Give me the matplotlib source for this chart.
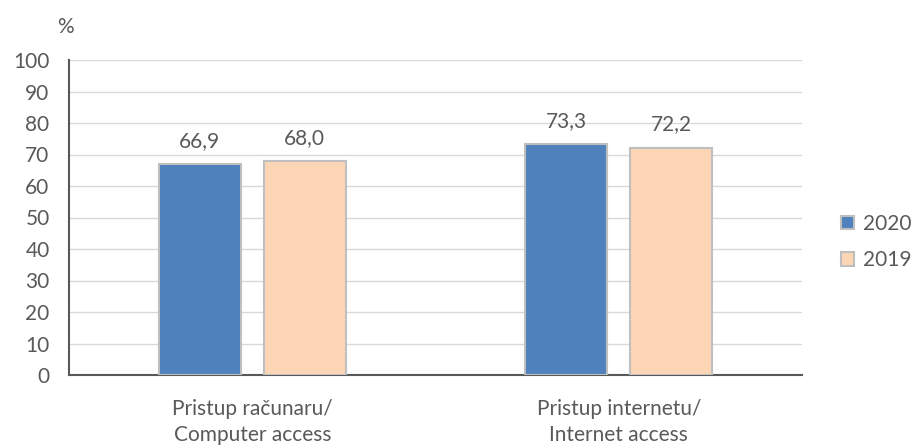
import matplotlib
matplotlib.use("Agg")
import matplotlib.pyplot as plt
import numpy as np
from matplotlib.patches import Patch

categories = ["Pristup računaru/\nComputer access", "Pristup internetu/\nInternet access"]
series_names = ["2020", "2019"]
values_2020 = [66.9, 73.3]
values_2019 = [68.0, 72.2]
yticks = [0, 10, 20, 30, 40, 50, 60, 70, 80, 90, 100]

plt.rcParams['font.family'] = ['Lato', 'DejaVu Sans']
txt = '#595959'

fig = plt.figure(figsize=(9.13, 4.45), dpi=100)
ax = fig.add_axes([69/913, 1-375/445, (802-69)/913, (375-60)/445])

x = np.arange(len(categories))
w = 0.224
off = 0.143
colors = ['#4F81BD', '#FCD5B5']
b1 = ax.bar(x - off, values_2020, w, color=colors[0], edgecolor='#BFBFBF', linewidth=1.5, zorder=3)
b2 = ax.bar(x + off, values_2019, w, color=colors[1], edgecolor='#BFBFBF', linewidth=1.5, zorder=3)
for bars in (b1, b2):
    for r in bars:
        ax.text(r.get_x() + r.get_width()/2, r.get_height() + 7.3,
                f"{r.get_height():.1f}".replace('.', ','),
                ha='center', va='center', fontsize=15, color=txt)

ax.set_xlim(-0.5, 1.5)
ax.set_ylim(0, 100)
ax.set_yticks(yticks)
ax.set_xticks(x)
ax.set_xticklabels(categories, fontsize=15, color=txt, linespacing=1.4)
ax.tick_params(axis='y', labelsize=15, labelcolor=txt, length=0, pad=14)
ax.tick_params(axis='x', length=0, pad=17)
ax.grid(axis='y', color='#D9D9D9', linewidth=1, zorder=0)
for s in ['top', 'right']:
    ax.spines[s].set_visible(False)
for s in ['left', 'bottom']:
    ax.spines[s].set_color('#595959')
    ax.spines[s].set_linewidth(1.5)

fig.text(57/913, 1-27/445, '%', fontsize=15, color=txt, va='center', ha='left')

handles = [Patch(facecolor=colors[0], edgecolor='#BFBFBF', linewidth=1.5),
           Patch(facecolor=colors[1], edgecolor='#BFBFBF', linewidth=1.5)]
fig.legend(handles, series_names, loc='center left', bbox_to_anchor=(841/913, 1-242/445),
           frameon=False, fontsize=15, labelcolor=txt, handlelength=0.6, handleheight=0.6,
           handletextpad=0.45, labelspacing=0.8, borderaxespad=0, borderpad=0)

fig.savefig('out.png', dpi=100)
